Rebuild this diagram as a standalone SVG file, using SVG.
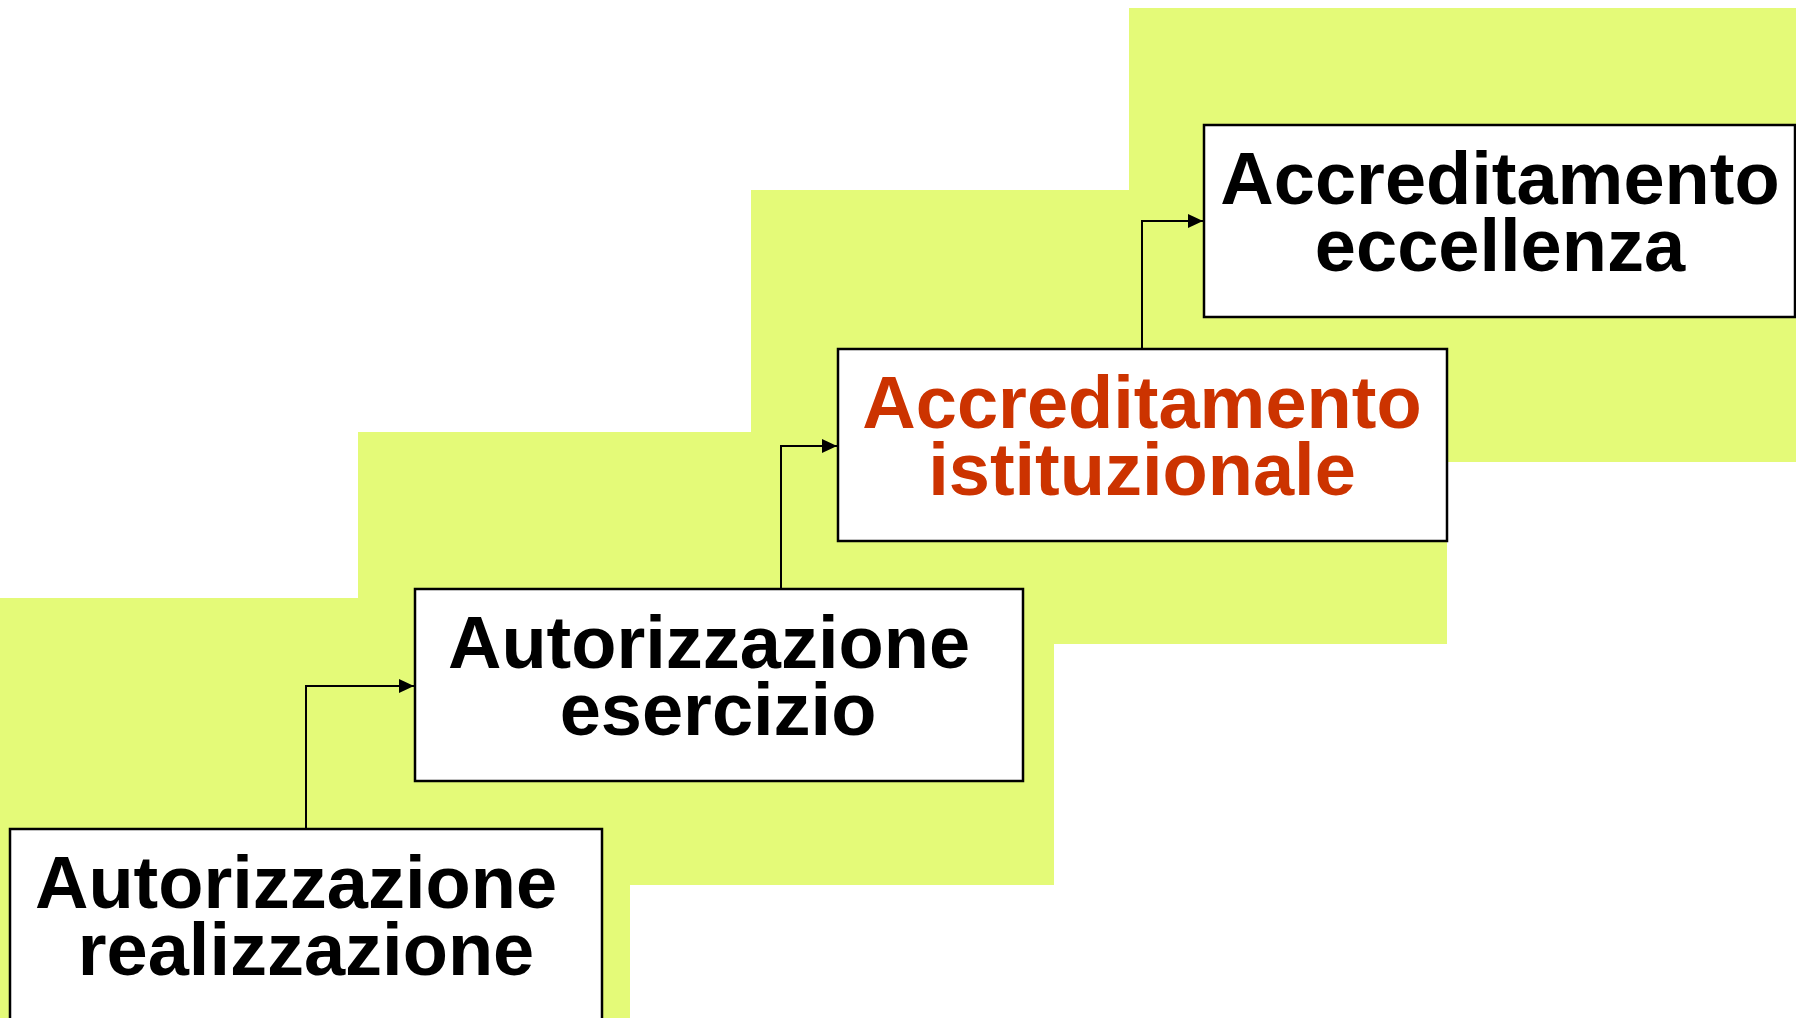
<svg xmlns="http://www.w3.org/2000/svg" width="1796" height="1018" viewBox="0 0 1796 1018">
<style>
.bg{fill:#E4FA78;stroke:none}
.box{fill:#FFFFFF;stroke:#000000;stroke-width:2.5}
.t{font-family:"Liberation Sans",Arial,Helvetica,sans-serif;font-weight:bold;font-size:74px;text-anchor:middle;fill:#000000}
.red{fill:#CC3300}
.conn{fill:none;stroke:#000000;stroke-width:2}
</style>
<defs>
<marker id="arr" markerUnits="userSpaceOnUse" markerWidth="16" markerHeight="16" refX="15" refY="7" orient="auto">
<path d="M0,0 L15,7 L0,14 Z" fill="#000000"/>
</marker>
</defs>
<g id="background">
<rect class="bg" x="0" y="598" width="630" height="420"/>
<rect class="bg" x="358" y="432" width="696" height="453"/>
<rect class="bg" x="751" y="190" width="696" height="454"/>
<rect class="bg" x="1129" y="8" width="667" height="454"/>
</g>
<g id="connectors">
<path class="conn" d="M306,829 V686 H414" marker-end="url(#arr)"/>
<path class="conn" d="M781,589 V446 H837" marker-end="url(#arr)"/>
<path class="conn" d="M1142,349 V221 H1203" marker-end="url(#arr)"/>
</g>
<g id="node1">
<rect class="box" x="10" y="829" width="592" height="200"/>
<text class="t" x="296" y="908">Autorizzazione</text>
<text class="t" x="306" y="975">realizzazione</text>
</g>
<g id="node2">
<rect class="box" x="415" y="589" width="608" height="192"/>
<text class="t" x="709" y="668">Autorizzazione</text>
<text class="t" x="718" y="735">esercizio</text>
</g>
<g id="node3">
<rect class="box" x="838" y="349" width="609" height="192"/>
<text class="t red" x="1142" y="428">Accreditamento</text>
<text class="t red" x="1142" y="495">istituzionale</text>
</g>
<g id="node4">
<rect class="box" x="1204" y="125" width="591" height="192"/>
<text class="t" x="1500" y="204">Accreditamento</text>
<text class="t" x="1500" y="271">eccellenza</text>
</g>
</svg>
